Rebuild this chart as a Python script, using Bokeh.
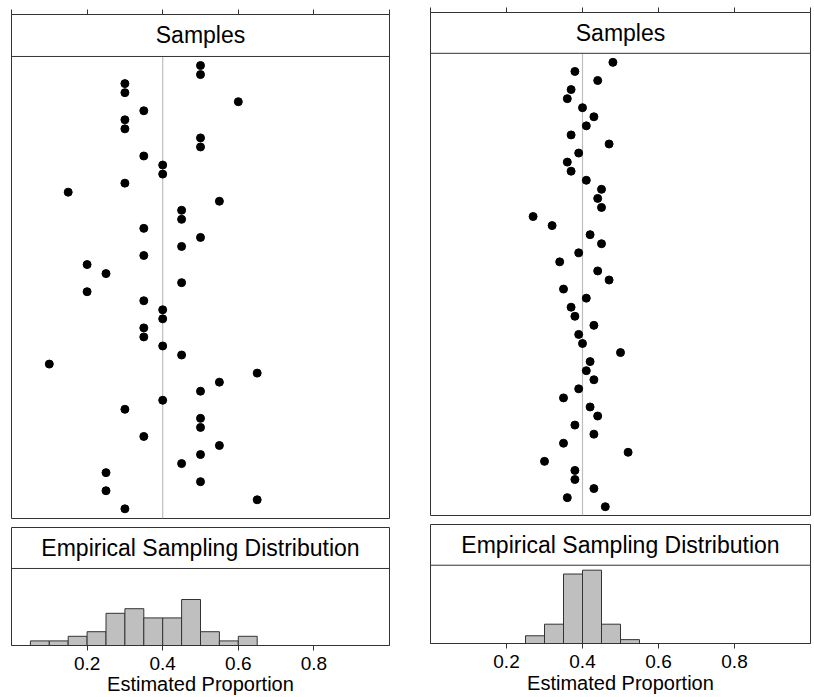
import numpy as np
from bokeh.plotting import figure
from bokeh.layouts import row, column
from bokeh.models import Span, FixedTicker, Range1d, CustomLabelingPolicy
from bokeh.core.properties import value
from bokeh.embed import file_html
from bokeh.resources import INLINE

# ---------------- data ----------------
left_samples = [0.5, 0.5, 0.3, 0.3, 0.6, 0.35, 0.3, 0.3, 0.5, 0.5,
                0.35, 0.4, 0.4, 0.3, 0.15, 0.55, 0.45, 0.45, 0.35, 0.5,
                0.45, 0.35, 0.2, 0.25, 0.45, 0.2, 0.35, 0.4, 0.4, 0.35,
                0.35, 0.4, 0.45, 0.1, 0.65, 0.55, 0.5, 0.4, 0.3, 0.5,
                0.5, 0.35, 0.55, 0.5, 0.45, 0.25, 0.5, 0.25, 0.65, 0.3]
right_samples = [0.48, 0.38, 0.44, 0.37, 0.36, 0.40, 0.43, 0.41, 0.37, 0.47,
                 0.39, 0.36, 0.37, 0.41, 0.45, 0.44, 0.45, 0.27, 0.32, 0.42,
                 0.45, 0.39, 0.34, 0.44, 0.47, 0.35, 0.41, 0.37, 0.38, 0.43,
                 0.39, 0.40, 0.50, 0.42, 0.41, 0.43, 0.39, 0.35, 0.42, 0.44,
                 0.38, 0.43, 0.35, 0.52, 0.30, 0.38, 0.38, 0.43, 0.36, 0.46]
true_proportion = 0.4
bin_width = 0.05
tick_values = [0.2, 0.4, 0.6, 0.8]
edge_ticks = [0.0, 0.2, 0.4, 0.6, 0.8, 1.0]
strip_samples = "Samples"
strip_hist = "Empirical Sampling Distribution"
x_title = "Estimated Proportion"

FONT_NAME = "Liberation Sans"
FONT = value(FONT_NAME)
DARK = "#333333"
GRAY_LINE = "#bebebe"
BAR_FILL = "#bfbfbf"


def base_fig(w, h, bl, br, bt, bb, y_lo, y_hi, xloc):
    p = figure(width=w, height=h, x_range=Range1d(0, 1), y_range=Range1d(y_lo, y_hi),
               x_axis_location=xloc, y_axis_location=None,
               toolbar_location=None, output_backend="svg",
               min_border_left=bl, min_border_right=br,
               min_border_top=bt, min_border_bottom=bb)
    p.grid.visible = False
    p.outline_line_color = DARK
    p.outline_line_width = 1
    p.background_fill_color = "white"
    p.border_fill_color = "white"
    ax = p.xaxis[0]
    ax.axis_line_color = DARK
    ax.major_tick_line_color = DARK
    ax.minor_tick_line_color = None
    ax.major_tick_in = 0
    ax.major_tick_out = 5
    return p


def samples_panel(vals, w, h, bl, br, bt, bb, y_lo, y_strip, y_top):
    p = base_fig(w, h, bl, br, bt, bb, y_lo, y_top, "above")
    ax = p.xaxis[0]
    ax.ticker = FixedTicker(ticks=edge_ticks)
    ax.major_label_policy = CustomLabelingPolicy(code="return new Set()")
    ax.major_label_text_font_size = "1px"
    ax.major_label_standoff = 0
    n = len(vals)
    ys = np.arange(n, 0, -1)
    p.segment(x0=[true_proportion], y0=[y_lo], x1=[true_proportion], y1=[y_strip],
              line_color=GRAY_LINE, line_width=1.2)
    p.scatter(x=vals, y=ys, size=8, fill_color="black", line_color="black")
    p.add_layout(Span(location=y_strip, dimension="width", line_color=DARK, line_width=1))
    p.text(x=[0.5], y=[(y_strip + y_top) / 2], text=[strip_samples],
           text_align="center", text_baseline="middle", text_font=FONT,
           text_font_size="23px", text_color="black")
    return p


def hist_panel(vals, w, h, bl, br, bt, bb, y_strip, y_top, label_standoff):
    p = base_fig(w, h, bl, br, bt, bb, 0, y_top, "below")
    ax = p.xaxis[0]
    ax.ticker = FixedTicker(ticks=tick_values)
    ax.major_label_text_font = FONT_NAME
    ax.major_label_text_font_size = "19px"
    ax.major_label_text_color = "black"
    ax.major_label_standoff = 6
    ax.axis_label = x_title
    ax.axis_label_text_font = FONT_NAME
    ax.axis_label_text_font_size = "20px"
    ax.axis_label_text_font_style = "normal"
    ax.axis_label_text_color = "black"
    ax.axis_label_standoff = label_standoff
    # right-closed bins of width bin_width
    idx = np.ceil(np.round(np.asarray(vals) / bin_width, 6)).astype(int)
    counts = np.bincount(idx, minlength=int(round(1 / bin_width)) + 1)
    k = np.nonzero(counts)[0]
    p.quad(left=(k - 1) * bin_width, right=k * bin_width, bottom=0, top=counts[k],
           fill_color=BAR_FILL, line_color=DARK, line_width=1)
    p.add_layout(Span(location=y_strip, dimension="width", line_color=DARK, line_width=1))
    p.text(x=[0.5], y=[(y_strip + y_top) / 2], text=[strip_hist],
           text_align="center", text_baseline="middle", text_font=FONT,
           text_font_size="23px", text_color="black")
    return p


# left column
L1 = samples_panel(left_samples, 410, 522, 11, 21, 14, 4, -0.07, 51.0, 55.64)
L2 = hist_panel(left_samples, 410, 175, 11, 21, 5, 52, 16.75, 25.66, 0)
# right column
R1 = samples_panel(right_samples, 404, 519, 430 - 410, 4, 12, 4, 0.03, 51.0, 55.5)
R2 = hist_panel(right_samples, 404, 178, 430 - 410, 4, 5, 54, 20.28, 30.83, 1)

layout = row(column(L1, L2), column(R1, R2))

open("out.html", "w").write(file_html(layout, INLINE))
